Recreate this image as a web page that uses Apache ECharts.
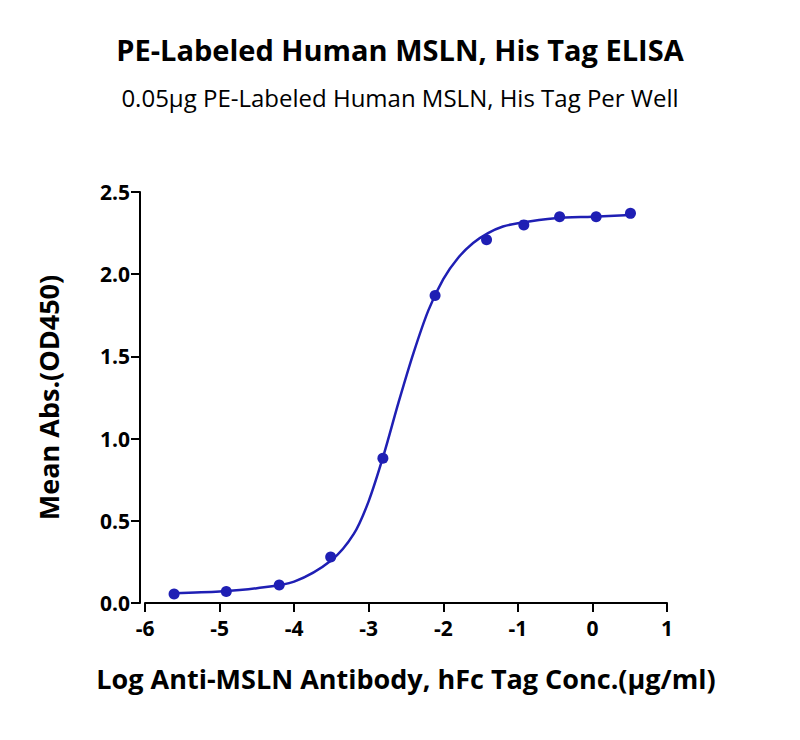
<!DOCTYPE html>
<html>
<head>
<meta charset="utf-8">
<script src="https://cdn.jsdelivr.net/npm/echarts@6/dist/echarts.min.js"></script>
<style>
  html, body { margin: 0; padding: 0; background: #fff; }
  #chart { width: 800px; height: 740px; }
</style>
</head>
<body>
<div id="chart"></div>
<script>
// measured points (log conc, OD450)
const logConc = [-5.61, -4.91, -4.20, -3.51, -2.81, -2.11, -1.42, -0.92, -0.44, 0.05, 0.51];
const meanAbs = [0.055, 0.07, 0.11, 0.28, 0.88, 1.87, 2.21, 2.30, 2.35, 2.35, 2.37];

// fitted curve
const curveX = [-5.61, -5.0, -4.5, -4.0, -3.5, -3.2, -3.0, -2.8, -2.6, -2.4, -2.2, -2.0, -1.8, -1.6, -1.4, -1.2, -1.0, -0.5, 0.0, 0.51];
const curveY = [0.06, 0.07, 0.09, 0.13, 0.26, 0.42, 0.62, 0.90, 1.22, 1.52, 1.78, 1.97, 2.10, 2.19, 2.25, 2.29, 2.31, 2.34, 2.35, 2.36];

const blue = '#1f1fb4';
const fontFamily = '"Open Sans", "Noto Sans", sans-serif';

const chart = echarts.init(document.getElementById('chart'), null, { renderer: 'svg' });

chart.setOption({
  animation: false,
  textStyle: { fontFamily },
  title: [
    {
      text: 'PE-Labeled Human MSLN, His Tag ELISA',
      left: 'center', top: 30,
      textStyle: { fontSize: 29, fontWeight: 'bold', color: '#000', fontFamily },
    },
    {
      text: '0.05μg PE-Labeled Human MSLN, His Tag Per Well',
      left: 'center', top: 80,
      textStyle: { fontSize: 24, fontWeight: 'normal', color: '#000', fontFamily },
    },
  ],
  grid: { left: 145, right: 133, top: 192, bottom: 137 },
  xAxis: {
    type: 'value',
    min: -6, max: 1, interval: 1,
    name: 'Log Anti-MSLN Antibody, hFc Tag Conc.(μg/ml)',
    nameLocation: 'middle', nameGap: 62,
    nameTextStyle: { fontSize: 27, fontWeight: 'bold', color: '#000' },
    axisLine: { onZero: false, lineStyle: { color: '#000', width: 2 } },
    axisTick: { length: 9, lineStyle: { color: '#000', width: 2 } },
    axisLabel: { fontSize: 21, fontWeight: 'bold', color: '#000', margin: 14 },
    splitLine: { show: false },
  },
  yAxis: {
    type: 'value',
    min: 0, max: 2.5, interval: 0.5,
    name: 'Mean Abs.(OD450)',
    nameLocation: 'middle', nameGap: 78,
    nameTextStyle: { fontSize: 27, fontWeight: 'bold', color: '#000' },
    offset: 5,
    axisLine: { show: true, onZero: false, lineStyle: { color: '#000', width: 2 } },
    axisTick: { show: true, length: 9, lineStyle: { color: '#000', width: 2 } },
    axisLabel: { fontSize: 21, fontWeight: 'bold', color: '#000', margin: 10,
      formatter: (v) => v.toFixed(1) },
    splitLine: { show: false },
  },
  series: [
    {
      name: 'fit',
      type: 'line',
      smooth: 0.3,
      showSymbol: false,
      data: curveX.map((x, i) => [x, curveY[i]]),
      lineStyle: { color: blue, width: 2.5 },
    },
    {
      name: 'data',
      type: 'scatter',
      symbolSize: 11,
      data: logConc.map((x, i) => [x, meanAbs[i]]),
      itemStyle: { color: blue, opacity: 1 },
    },
  ],
});
</script>
</body>
</html>
